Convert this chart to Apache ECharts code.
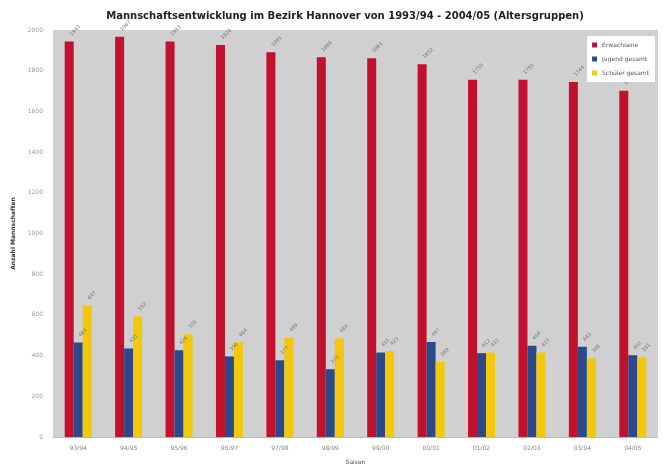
<!DOCTYPE html>
<html>
<head>
<meta charset="utf-8">
<script src="https://cdn.jsdelivr.net/npm/echarts@6/dist/echarts.min.js"></script>
<style>
  html, body { margin: 0; padding: 0; background: #fff; }
  #chart { width: 671px; height: 470px; }
</style>
</head>
<body>
<div id="chart"></div>
<script>
// Saisons
const seasons = ['93/94', '94/95', '95/96', '96/97', '97/98', '98/99', '99/00', '00/01', '01/02', '02/03', '03/04', '04/05'];
// Mannschaften je Altersgruppe
const erwachsene = [1943, 1967, 1943, 1926, 1891, 1866, 1861, 1832, 1755, 1755, 1744, 1701];
const jugend = [464, 435, 426, 396, 377, 333, 415, 467, 412, 448, 443, 402];
const schueler = [647, 592, 505, 464, 489, 484, 423, 369, 415, 415, 386, 391];
const yTicks = [0, 200, 400, 600, 800, 1000, 1200, 1400, 1600, 1800, 2000];

const chart = echarts.init(document.getElementById('chart'));

const barLabel = {
  show: true,
  position: 'top',
  rotate: 45,
  align: 'left',
  verticalAlign: 'middle',
  offset: [2, 0],
  color: '#777',
  fontSize: 5,
  fontFamily: 'DejaVu Sans'
};

function bar(name, data, color) {
  return {
    name: name,
    type: 'bar',
    data: data,
    barWidth: 9,
    barGap: '0%',
    itemStyle: { color: color },
    label: barLabel
  };
}

chart.setOption({
  animation: false,
  title: {
    text: 'Mannschaftsentwicklung im Bezirk Hannover von 1993/94 - 2004/05 (Altersgruppen)',
    left: 340,
    top: 6,
    textAlign: 'center',
    textStyle: { fontSize: 10, fontWeight: 'bold', color: '#222', fontFamily: 'DejaVu Sans' }
  },
  legend: {
    orient: 'vertical',
    right: 16,
    top: 36,
    backgroundColor: '#fff',
    padding: [6, 6, 6, 5],
    itemWidth: 5,
    itemHeight: 5,
    itemGap: 8,
    icon: 'rect',
    textStyle: { fontSize: 6, color: '#555', fontFamily: 'DejaVu Sans' },
    data: ['Erwachsene', 'Jugend gesamt', 'Schüler gesamt']
  },
  grid: {
    left: 53,
    right: 13,
    top: 30,
    bottom: 32,
    show: true,
    backgroundColor: '#d0d0d0',
    borderWidth: 0
  },
  xAxis: {
    type: 'category',
    data: seasons,
    name: 'Saison',
    nameLocation: 'middle',
    nameGap: 22,
    nameTextStyle: { fontSize: 6, color: '#444', fontFamily: 'DejaVu Sans' },
    axisTick: { show: false },
    axisLine: { lineStyle: { color: '#bbb' } },
    axisLabel: { fontSize: 6, color: '#888', margin: 8, fontFamily: 'DejaVu Sans' }
  },
  yAxis: {
    type: 'value',
    min: yTicks[0],
    max: yTicks[yTicks.length - 1],
    interval: 200,
    name: 'Anzahl Mannschaften',
    nameLocation: 'middle',
    nameGap: 30,
    nameTextStyle: { fontSize: 6, color: '#333', fontWeight: 'bold', fontFamily: 'DejaVu Sans' },
    axisLine: { show: false },
    axisTick: { show: false },
    splitLine: { show: false },
    axisLabel: { fontSize: 6, color: '#999', margin: 10, fontFamily: 'DejaVu Sans', formatter: v => String(v) }
  },
  series: [
    bar('Erwachsene', erwachsene, '#c2112d'),
    bar('Jugend gesamt', jugend, '#2c4a8a'),
    bar('Schüler gesamt', schueler, '#f3c80c')
  ]
});
</script>
</body>
</html>
